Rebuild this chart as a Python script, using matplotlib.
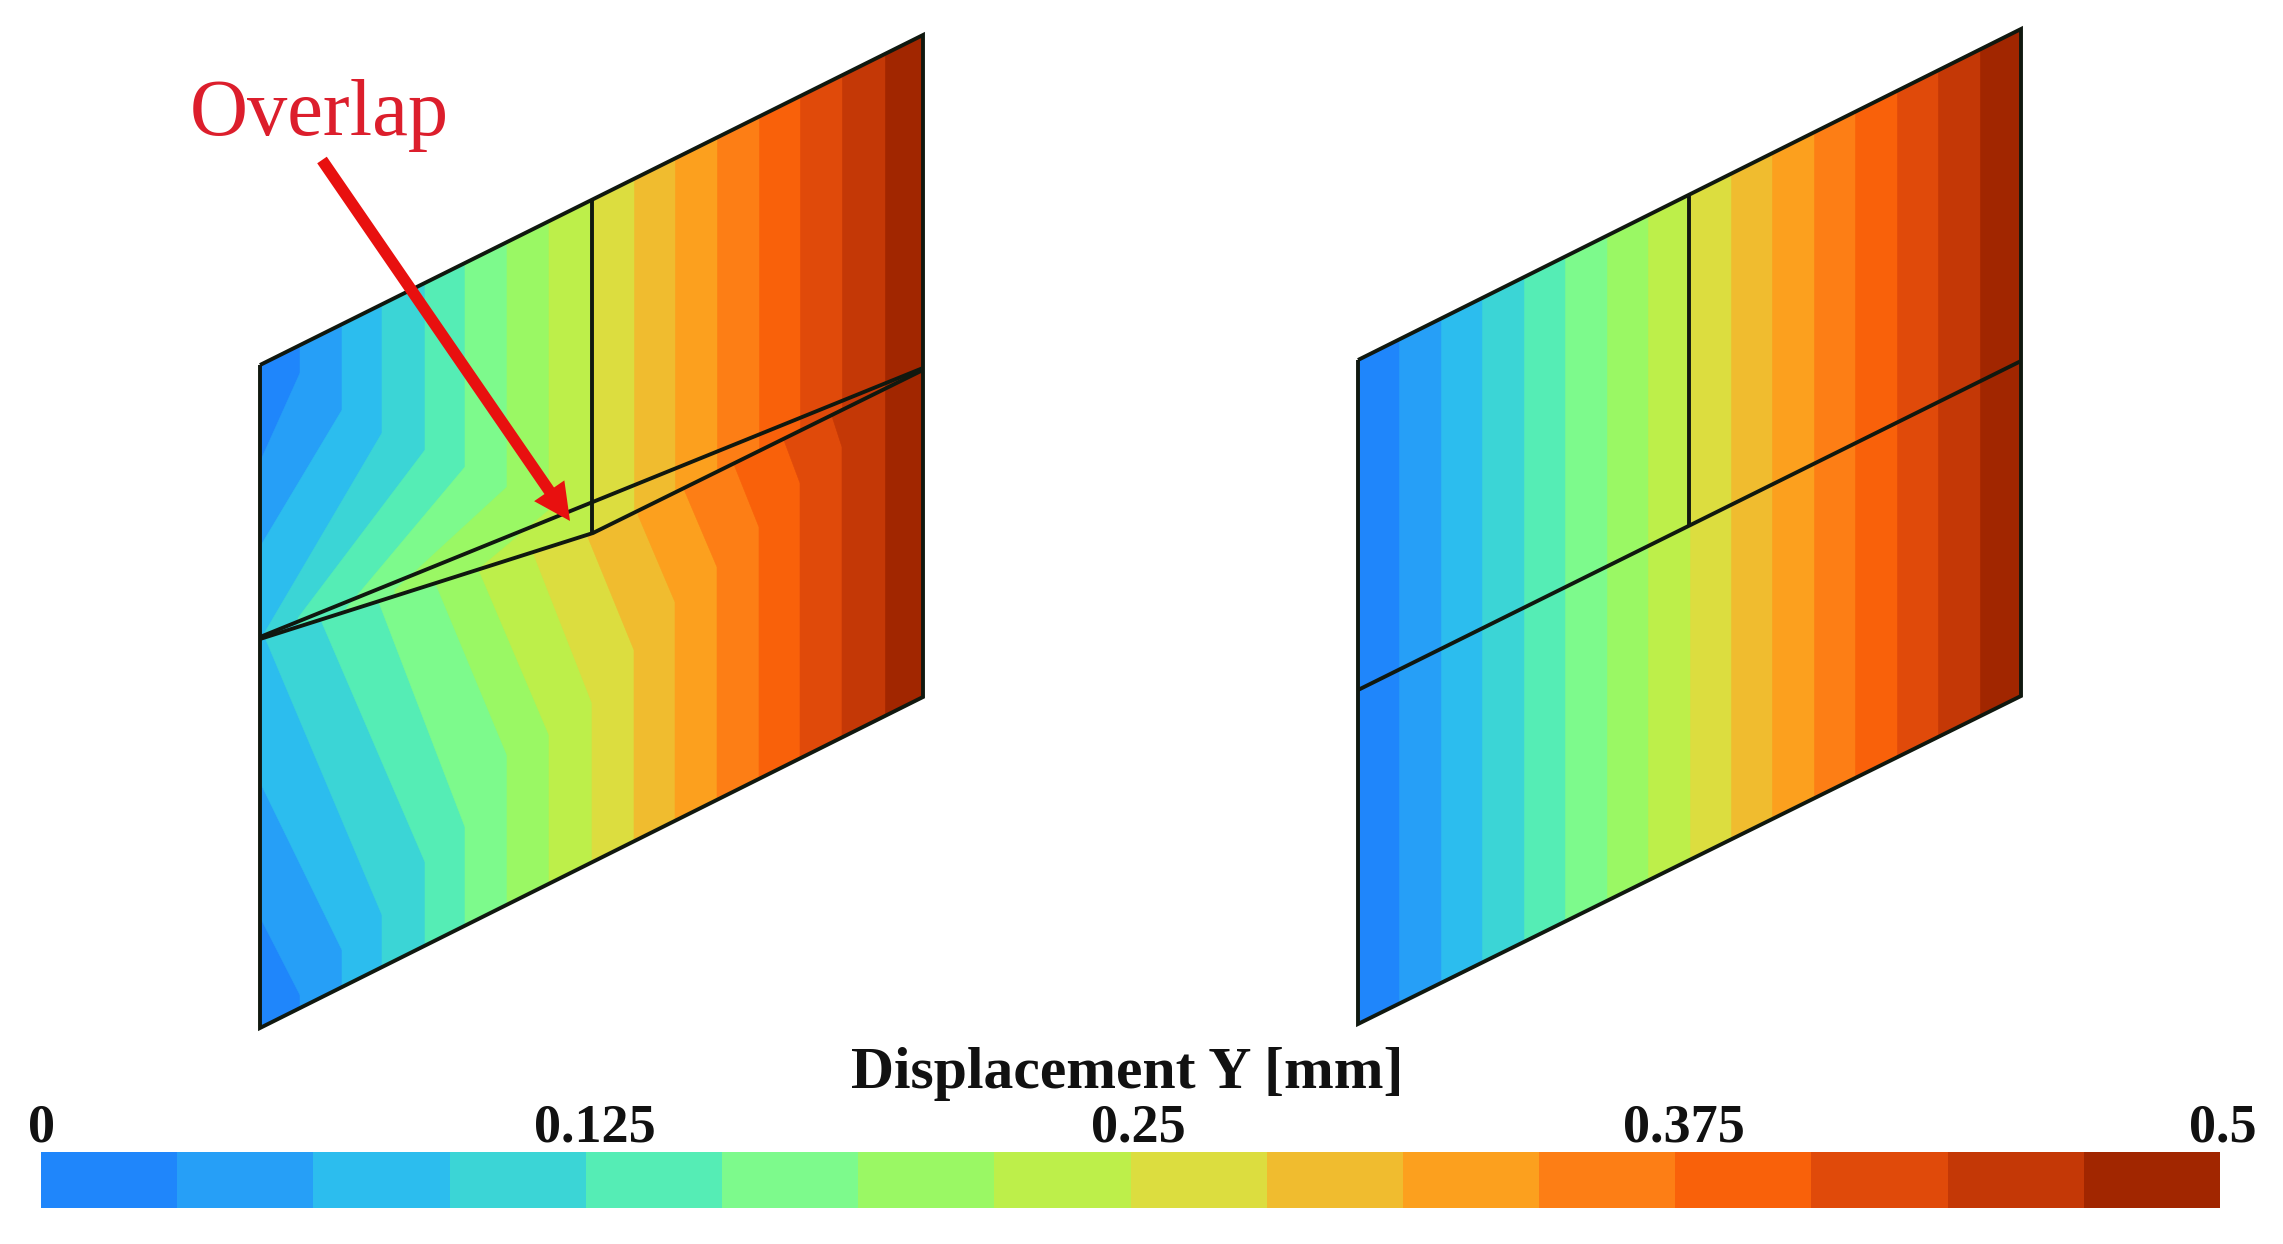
import matplotlib
matplotlib.use("Agg")
import matplotlib.pyplot as plt
from matplotlib.patches import Polygon, FancyArrowPatch

W, H = 2283, 1244
band_colors = ["#1F86FB", "#269FF7", "#2CBDEE", "#3BD5D6", "#55EDB5", "#7DFA8C", "#9AF864", "#BDEF4A",
               "#DCDD3F", "#F0BC2F", "#FCA01E", "#FD7E15", "#F9610A", "#E04A0A", "#C43806", "#A12600"]
tick_labels = ["0", "0.125", "0.25", "0.375", "0.5"]
cbar_title = "Displacement Y [mm]"
note_text = "Overlap"

# left model: contour band boundaries (15 interior levels), image pixels
level_x = [300, 342, 382, 425, 465, 507, 549, 592, 634, 675, 717, 759, 800, 842, 885]
upper_kink_y = [373, 410, 433, 450, 467, 487, 510, 1300, 1300, 1300, 1300, 1300, 1300, 1300, 1300]
upper_end_x = [260, 260, 265, 298, 345, 395, 480, 592, 634, 675, 717, 759, 800, 842, 885]
upper_end_y = [462, 547, 632, 618, 610, 590, 568, 1300, 1300, 1300, 1300, 1300, 1300, 1300, 1300]
lower_start_x = [260, 260, 266, 320, 378, 435, 478, 532, 587, 638, 683, 733, 782, 830, 885]
lower_start_y = [917, 782, 640, 618, 600, 582, 568, 550, 535, 515, 487, 462, 435, 410, 350]
lower_kink_y = [995, 950, 915, 862, 827, 755, 735, 703, 650, 602, 567, 527, 483, 447, 350]
upper_plate = [(260, 365), (923, 35), (923, 369), (593, 533), (260, 637)]
lower_plate = [(260, 637), (593, 533), (923, 370), (923, 697), (260, 1028)]
crack_upper = [(260, 637), (923, 368)]
crack_lower = [(260, 639), (593, 533), (923, 370)]
left_web = [(592, 200), (592, 533)]

# right model
right_level_x = [1399, 1441, 1482, 1524, 1565, 1607, 1648, 1690, 1731, 1772, 1814, 1855, 1897, 1938, 1980]
right_outline = [(1358, 360), (2021, 29), (2021, 696), (1358, 1024)]
right_joint = [(1358, 690), (2021, 361)]
right_web = [(1689, 195), (1689, 527)]

LINE = "#10180F"
LW = 2.8

fig = plt.figure(figsize=(W / 100, H / 100), dpi=100, facecolor="white")
ax = fig.add_axes([0, 0, 1, 1])
ax.set_xlim(0, W)
ax.set_ylim(H, 0)
ax.axis("off")


def fill(points, color, clip, z):
    p = Polygon(points, closed=True, facecolor=color, edgecolor=color, lw=0.4, zorder=z)
    ax.add_patch(p)
    p.set_clip_path(clip)


clip_low = Polygon(lower_plate, closed=True, transform=ax.transData)
clip_up = Polygon(upper_plate, closed=True, transform=ax.transData)
clip_right = Polygon(right_outline, closed=True, transform=ax.transData)

# lower plate
fill(lower_plate, band_colors[0], clip_low, 1)
for i, x in enumerate(level_x):
    pts = [(lower_start_x[i], -100), (lower_start_x[i], lower_start_y[i]), (x, lower_kink_y[i]),
           (x, 1300), (1100, 1300), (1100, -100)]
    fill(pts, band_colors[i + 1], clip_low, 1 + i * 0.01)

# upper plate
fill(upper_plate, band_colors[0], clip_up, 2)
for i, x in enumerate(level_x):
    pts = [(x, -100), (x, upper_kink_y[i]), (upper_end_x[i], upper_end_y[i]),
           (upper_end_x[i], 1300), (1100, 1300), (1100, -100)]
    fill(pts, band_colors[i + 1], clip_up, 2 + i * 0.01)

# right model bands
fill(right_outline, band_colors[0], clip_right, 1)
for i, x in enumerate(right_level_x):
    pts = [(x, -100), (x, 1300), (2100, 1300), (2100, -100)]
    fill(pts, band_colors[i + 1], clip_right, 1 + i * 0.01)


def line(points, closed=False):
    xs = [p[0] for p in points]
    ys = [p[1] for p in points]
    if closed:
        xs.append(xs[0])
        ys.append(ys[0])
    ax.plot(xs, ys, color=LINE, lw=LW, solid_joinstyle="miter", solid_capstyle="butt", zorder=5)


left_outline = [(260, 365), (923, 35), (923, 697), (260, 1028)]
line(left_outline, closed=True)
line(crack_upper)
line(crack_lower)
line(left_web)
line(right_outline, closed=True)
line(right_joint)
line(right_web)

# arrow and note
ax.add_patch(FancyArrowPatch((322, 160), (570, 521), arrowstyle="simple,head_length=1.2,head_width=1.2,tail_width=0.38",
                             mutation_scale=22, color="#E8100F", lw=0, shrinkA=0, shrinkB=0, zorder=6))
ax.text(190, 135, note_text, color="#DC1E2C", fontsize=58, family="Liberation Serif", ha="left", va="baseline", zorder=7)

# colour bar: one cell per band
bar_left, bar_right, bar_top, bar_bottom = 41, 2220, 1152, 1208
n = len(band_colors)
for i, c in enumerate(band_colors):
    x0 = bar_left + (bar_right - bar_left) * i / n
    x1 = bar_left + (bar_right - bar_left) * (i + 1) / n
    ax.fill_between([x0, x1], bar_top, bar_bottom, color=c, lw=0, zorder=3)

tick_x = [41, 595, 1138, 1684, 2223]
for x, t in zip(tick_x, tick_labels):
    ax.text(x, 1141, t, fontsize=39, family="Liberation Serif", weight="bold", color="#111111",
            ha="center", va="baseline")
ax.text(1127, 1088, cbar_title, fontsize=43, family="Liberation Serif", weight="bold", color="#111111",
        ha="center", va="baseline")

fig.savefig("out.png", dpi=100, facecolor="white")
